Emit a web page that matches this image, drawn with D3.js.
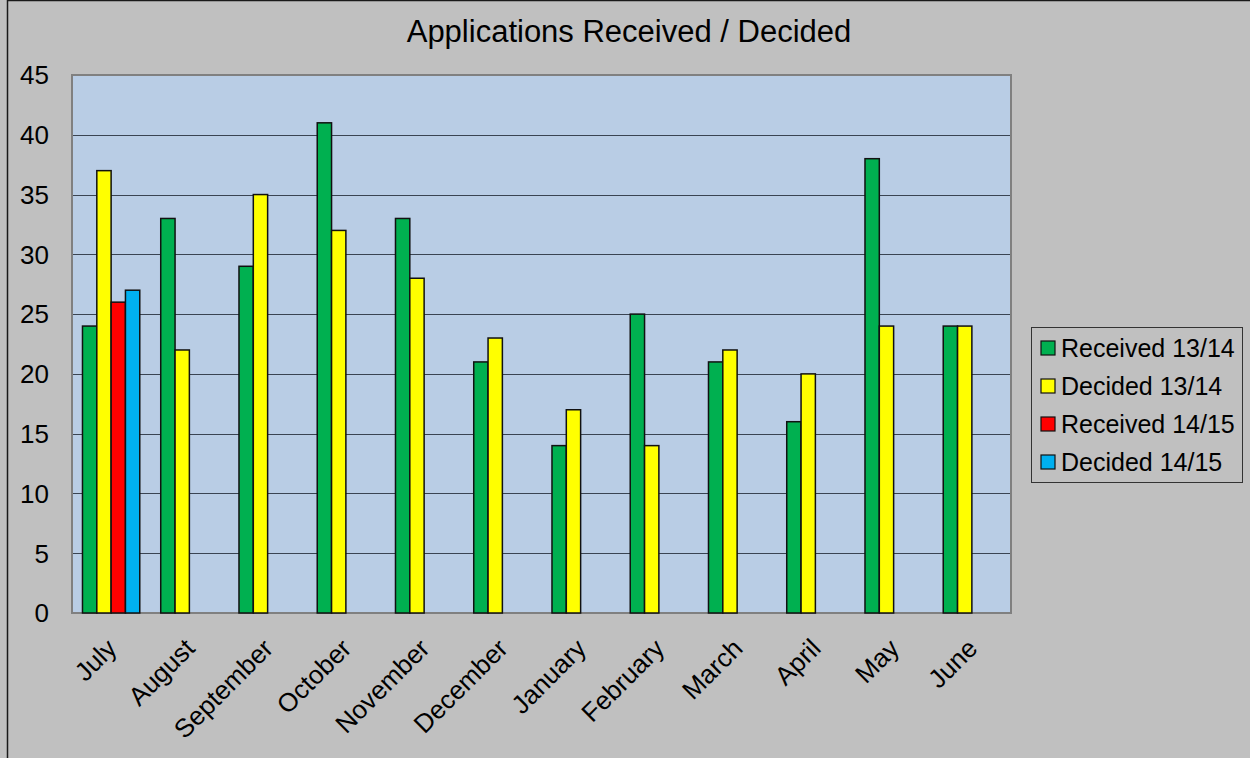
<!DOCTYPE html>
<html>
<head>
<meta charset="utf-8">
<script src="https://cdn.jsdelivr.net/npm/d3@7"></script>
<style>
  html, body { margin: 0; padding: 0; background: #c0c0c0; }
  svg { display: block; font-family: "Liberation Sans", Arial, sans-serif; }
</style>
</head>
<body>
<svg id="chart"></svg>
<script>
// months along the x axis
const months = ["July", "August", "September", "October", "November", "December",
  "January", "February", "March", "April", "May", "June"];
const seriesNames = ["Received 13/14", "Decided 13/14", "Received 14/15", "Decided 14/15"];
const seriesColors = ["#00b050", "#ffff00", "#ff0000", "#00b0f0"];
// values (null = no bar)
const received1314 = [24, 33, 29, 41, 33, 21, 14, 25, 21, 16, 38, 24];
const decided1314 = [37, 22, 35, 32, 28, 23, 17, 14, 22, 20, 24, 24];
const received1415 = [26, null, null, null, null, null, null, null, null, null, null, null];
const decided1415 = [27, null, null, null, null, null, null, null, null, null, null, null];
const yTicks = [0, 5, 10, 15, 20, 25, 30, 35, 40, 45];

const width = 1250, height = 758;
const plot = {left: 72, top: 75, right: 1011, bottom: 613};

var svg = d3.select("#chart").attr("width", width).attr("height", height);

// chart area border (only left/top visible in the picture)
svg.append("rect")
  .attr("x", 7.5).attr("y", 0.5)
  .attr("width", width + 10).attr("height", height + 10)
  .attr("fill", "#c0c0c0").attr("stroke", "#1a1a1a").attr("stroke-width", 1.5);

svg.append("text")
  .attr("x", 629).attr("y", 42)
  .attr("text-anchor", "middle")
  .attr("font-size", 31)
  .attr("fill", "#000")
  .text("Applications Received / Decided");

var x0 = d3.scaleBand().domain(months).range([plot.left, plot.right]);
var bw = x0.bandwidth();
var gap = bw * 0.134;
var x1 = d3.scaleBand().domain(d3.range(4)).range([gap, bw - gap]);
var y = d3.scaleLinear().domain([0, 45]).range([plot.bottom, plot.top]);

// plot background
svg.append("rect")
  .attr("x", plot.left).attr("y", plot.top)
  .attr("width", plot.right - plot.left).attr("height", plot.bottom - plot.top)
  .attr("fill", "#b9cde5");

// gridlines
svg.append("g")
  .selectAll("line")
  .data(yTicks.filter(d => d > 0 && d < 45))
  .enter().append("line")
  .attr("x1", plot.left).attr("x2", plot.right)
  .attr("y1", d => Math.round(y(d)) + 0.5).attr("y2", d => Math.round(y(d)) + 0.5)
  .attr("stroke", "#3a4452").attr("stroke-width", 1.2);

// plot border
svg.append("rect")
  .attr("x", plot.left).attr("y", plot.top)
  .attr("width", plot.right - plot.left).attr("height", plot.bottom - plot.top)
  .attr("fill", "none").attr("stroke", "#808080").attr("stroke-width", 2);

// y axis labels
svg.append("g")
  .selectAll("text")
  .data(yTicks)
  .enter().append("text")
  .attr("x", 49).attr("y", d => y(d))
  .attr("dy", "0.36em")
  .attr("text-anchor", "end")
  .attr("font-size", 26)
  .text(d => d);

// bars
var allSeries = [received1314, decided1314, received1415, decided1415];
var barData = [];
months.forEach(function(m, i) {
  allSeries.forEach(function(s, j) {
    if (s[i] != null) barData.push({month: m, series: j, value: s[i]});
  });
});

svg.append("g")
  .selectAll("rect")
  .data(barData)
  .enter().append("rect")
  .attr("x", d => x0(d.month) + x1(d.series))
  .attr("y", d => y(d.value))
  .attr("width", x1.bandwidth())
  .attr("height", d => y(0) - y(d.value))
  .attr("fill", d => seriesColors[d.series])
  .attr("stroke", "#111")
  .attr("stroke-width", 1.5);

// x labels
svg.append("g")
  .selectAll("text")
  .data(months)
  .enter().append("text")
  .attr("transform", d => "translate(" + (x0(d) + bw / 2 + 7) + "," + 650 + ") rotate(-45)")
  .attr("text-anchor", "end")
  .attr("font-size", 26)
  .text(d => d);

// legend
var legend = svg.append("g").attr("transform", "translate(1031,327)");
legend.append("rect")
  .attr("x", 0.5).attr("y", 0.5).attr("width", 211).attr("height", 155)
  .attr("fill", "none").attr("stroke", "#333").attr("stroke-width", 1);
var items = legend.selectAll("g.item")
  .data(seriesNames)
  .enter().append("g")
  .attr("transform", (d, i) => "translate(10," + (21 + i * 38) + ")");
items.append("rect")
  .attr("x", 0).attr("y", -7).attr("width", 14).attr("height", 14)
  .attr("fill", (d, i) => seriesColors[i])
  .attr("stroke", "#111").attr("stroke-width", 1.2);
items.append("text")
  .attr("x", 20).attr("y", 0).attr("dy", "0.36em")
  .attr("font-size", 25)
  .text(d => d);
</script>
</body>
</html>
